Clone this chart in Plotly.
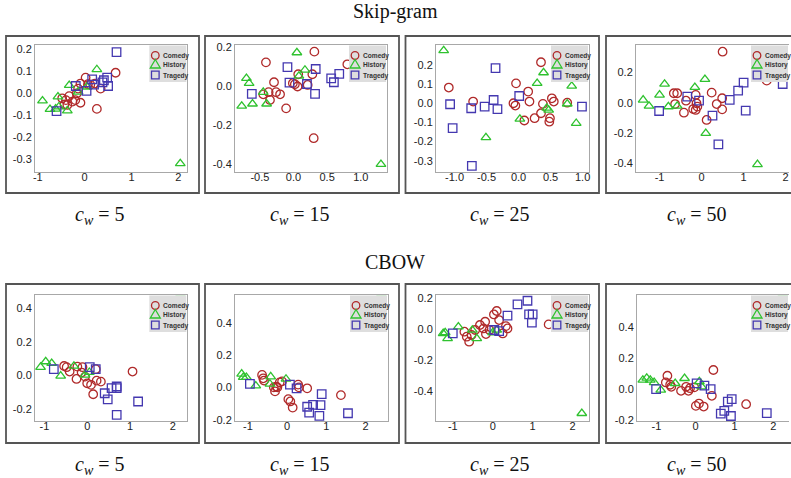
import plotly.graph_objects as go

# ---------------- data ----------------
GENRES = ["Comedy", "History", "Tragedy"]
ROW_TITLES = ["Skip-gram", "CBOW"]
WINDOWS = [5, 15, 25, 50]

# Skip-gram, c_w = 5
SG5_COMEDY_X = [0.02, 0.66, -0.09, 0.07, 0.22, 0.34, 0.26, -0.09, -0.26, -0.37, -0.4, -0.33, -0.48, -0.17, -0.14, -0.43, 0.12, -0.2]
SG5_COMEDY_Y = [0.072, 0.094, 0.045, 0.042, 0.045, 0.022, -0.07, -0.042, -0.037, -0.052, -0.03, -0.012, -0.022, 0.0, 0.022, -0.05, 0.04, -0.03]
SG5_HISTORY_X = [-0.9, -0.74, -0.57, -0.55, -0.37, -0.33, -0.14, 0.26, 2.04, -0.62, 0.05]
SG5_HISTORY_Y = [-0.033, -0.072, -0.015, -0.06, -0.078, 0.037, 0.007, 0.109, -0.318, -0.07, 0.03]
SG5_TRAGEDY_X = [0.68, -0.6, -0.19, 0.04, 0.16, 0.41, 0.48, 0.5, 0.38, 0.2]
SG5_TRAGEDY_Y = [0.188, -0.08, 0.034, 0.012, 0.064, 0.06, 0.072, 0.034, 0.05, 0.04]

# Skip-gram, c_w = 15
SG15_COMEDY_X = [-0.41, 0.31, 0.8, -0.29, -0.37, -0.35, -0.26, -0.2, -0.11, -0.01, 0.02, 0.07, 0.06, 0.21, 0.28, 0.3, -0.45]
SG15_COMEDY_Y = [0.121, 0.176, 0.111, 0.019, -0.032, -0.072, -0.032, -0.043, -0.115, 0.014, 0.009, 0.06, -0.003, 0.005, 0.06, -0.268, -0.043]
SG15_HISTORY_X = [0.05, -0.7, -0.66, -0.77, -0.61, -0.45, -0.4, 0.17, 0.08, 1.3]
SG15_HISTORY_Y = [0.171, 0.039, 0.014, -0.103, -0.092, -0.032, -0.092, 0.082, 0.051, -0.402]
SG15_TRAGEDY_X = [-0.62, -0.09, -0.06, 0.2, 0.33, 0.32, 0.56, 0.6, 0.68]
SG15_TRAGEDY_Y = [-0.041, 0.096, 0.017, 0.01, 0.087, -0.041, 0.039, 0.019, 0.062]

# Skip-gram, c_w = 25
SG25_COMEDY_X = [-1.09, -0.71, -0.04, 0.35, 0.15, 0.17, -0.08, -0.05, 0.09, 0.25, 0.35, 0.38, 0.52, 0.55, 0.48, 0.49, 0.76]
SG25_COMEDY_Y = [0.082, 0.009, 0.104, 0.214, 0.061, 0.009, 0.0, -0.012, -0.09, -0.078, -0.052, -0.003, 0.026, 0.009, -0.096, -0.078, 0.003]
SG25_HISTORY_X = [-1.17, -0.51, 0.02, 0.29, 0.39, 0.47, 0.76, 0.83, 0.9, 0.44]
SG25_HISTORY_Y = [0.275, -0.179, -0.082, 0.104, 0.16, -0.035, -0.003, 0.09, -0.104, -0.025]
SG25_TRAGEDY_X = [-1.07, -1.03, -0.74, -0.53, -0.39, -0.36, -0.33, -0.73, 0.01, 0.99]
SG25_TRAGEDY_Y = [-0.005, -0.13, -0.026, -0.017, 0.017, 0.183, -0.031, -0.327, 0.038, -0.017]

# Skip-gram, c_w = 50
SG50_COMEDY_X = [0.5, -0.66, -0.58, -0.63, -0.42, -0.37, -0.2, -0.14, -0.1, -0.12, -0.14, 0.24, 0.36, 0.49, 0.49, 0.12, 1.55]
SG50_COMEDY_Y = [0.336, 0.062, 0.062, -0.009, -0.066, 0.013, -0.042, -0.048, -0.026, -0.004, 0.051, 0.066, -0.009, 0.029, -0.044, -0.114, 0.145]
SG50_HISTORY_X = [-1.39, -1.25, -1.0, -0.88, -0.79, -0.58, -0.16, 0.08, 0.1, 1.33]
SG50_HISTORY_Y = [0.018, -0.022, 0.051, 0.123, -0.026, -0.022, 0.101, 0.154, -0.202, -0.407]
SG50_TRAGEDY_X = [-1.01, -0.34, -0.06, 0.26, 0.67, 0.87, 1.0, 1.05, 0.4, 1.93]
SG50_TRAGEDY_Y = [-0.055, 0.04, 0.013, -0.086, 0.018, 0.079, 0.132, -0.053, -0.275, 0.123]

# CBOW, c_w = 5
CB5_COMEDY_X = [-0.54, -0.48, -0.41, -0.23, -0.11, -0.13, -0.25, -0.05, 0.0, 0.09, 0.14, 0.22, 0.32, 0.2, 1.06]
CB5_COMEDY_Y = [0.057, 0.05, 0.024, 0.053, 0.05, 0.018, -0.02, -0.006, -0.046, -0.055, -0.111, -0.03, -0.036, 0.038, 0.024]
CB5_HISTORY_X = [-1.09, -0.97, -0.83, -0.62, -0.31, -0.05, 0.05, 2.18]
CB5_HISTORY_Y = [0.05, 0.083, 0.073, -0.002, 0.057, 0.004, 0.02, 0.494]
CB5_TRAGEDY_X = [-0.78, 0.06, 0.2, 0.41, 0.48, 0.57, 0.69, 0.69, 1.19, 0.69]
CB5_TRAGEDY_Y = [0.038, 0.05, 0.038, -0.105, -0.141, -0.075, -0.065, -0.075, -0.154, -0.234]

# CBOW, c_w = 15
CB15_COMEDY_X = [-0.64, -0.61, -0.59, -0.34, -0.31, -0.25, -0.19, -0.13, 0.03, 0.08, 0.14, 0.28, 0.3, 0.51, 1.37, -0.28]
CB15_COMEDY_Y = [0.077, 0.056, 0.042, 0.0, -0.025, 0.0, 0.031, 0.037, -0.073, -0.087, -0.125, 0.017, 0.0, -0.006, -0.048, 0.005]
CB15_HISTORY_X = [-1.16, -1.12, -1.04, -0.8, -0.42, -0.44, -0.03, 2.4]
CB15_HISTORY_Y = [0.083, 0.062, 0.062, 0.01, 0.066, 0.021, 0.052, 0.587]
CB15_TRAGEDY_X = [-0.95, 0.07, 0.24, 0.51, 0.56, 0.66, 0.88, 0.85, 0.82, 1.55]
CB15_TRAGEDY_Y = [0.021, 0.017, -0.006, -0.12, -0.156, -0.108, -0.042, -0.11, -0.176, -0.16]

# CBOW, c_w = 25
CB25_COMEDY_X = [-0.71, -0.59, -0.65, -0.53, -0.44, -0.32, -0.19, -0.23, -0.17, -0.08, 0.03, 0.1, 0.16, 0.25, 0.33, 0.37, 1.4]
CB25_COMEDY_Y = [-0.015, -0.079, -0.047, -0.036, -0.004, 0.028, 0.049, 0.006, -0.03, -0.004, 0.096, 0.118, 0.06, -0.026, 0.021, 0.006, 0.032]
CB25_HISTORY_X = [-1.24, -1.19, -1.13, -0.86, -0.51, -0.4, 0.0, 0.1, 2.23]
CB25_HISTORY_Y = [-0.026, -0.021, -0.058, 0.017, -0.004, -0.058, -0.021, -0.004, -0.54]
CB25_TRAGEDY_X = [-1.0, 0.04, 0.16, 0.37, 0.62, 0.87, 0.91, 1.0, 0.98]
CB25_TRAGEDY_Y = [-0.026, -0.004, -0.011, 0.088, 0.161, 0.184, 0.096, 0.096, 0.043]

# CBOW, c_w = 50
CB50_COMEDY_X = [-0.72, -0.76, -0.65, -0.62, -0.37, -0.24, -0.18, -0.14, -0.03, 0.01, 0.09, 0.21, 0.42, 0.46, 1.3]
CB50_COMEDY_Y = [0.086, 0.043, 0.028, 0.015, -0.011, 0.015, -0.011, 0.006, 0.011, -0.108, -0.093, -0.112, -0.043, 0.123, -0.097]
CB50_HISTORY_X = [-1.35, -1.25, -1.16, -1.06, -0.89, -0.52, -0.28, 0.1, 0.16, 2.24]
CB50_HISTORY_Y = [0.058, 0.071, 0.058, 0.043, -0.006, 0.037, 0.069, 0.048, 0.015, 0.621]
CB50_TRAGEDY_X = [-1.01, 0.03, 0.23, 0.39, 0.65, 0.74, 0.83, 0.93, 0.91, 1.83]
CB50_TRAGEDY_Y = [0.0, 0.037, 0.022, 0.0, -0.158, -0.14, -0.08, -0.065, -0.173, -0.155]

# tick labels per panel
XTICKS_INT = ["-1", "0", "1", "2"]
XTICKS_SG15 = ["-0.5", "0.0", "0.5", "1.0"]
XTICKS_SG25 = ["-1.0", "-0.5", "0.0", "0.5", "1.0"]
YTICKS_SG5 = ["-0.3", "-0.2", "-0.1", "0.0", "0.1", "0.2"]
YTICKS_SG15 = ["-0.4", "-0.2", "0.0", "0.2"]
YTICKS_SG25 = ["-0.3", "-0.2", "-0.1", "0.0", "0.1", "0.2"]
YTICKS_SG50 = ["-0.4", "-0.2", "0.0", "0.2"]
YTICKS_CB = ["-0.2", "0.0", "0.2", "0.4"]
YTICKS_CB25 = ["-0.4", "-0.2", "0.0", "0.2"]

PANEL_DATA = [
    ((SG5_COMEDY_X, SG5_COMEDY_Y), (SG5_HISTORY_X, SG5_HISTORY_Y), (SG5_TRAGEDY_X, SG5_TRAGEDY_Y)),
    ((SG15_COMEDY_X, SG15_COMEDY_Y), (SG15_HISTORY_X, SG15_HISTORY_Y), (SG15_TRAGEDY_X, SG15_TRAGEDY_Y)),
    ((SG25_COMEDY_X, SG25_COMEDY_Y), (SG25_HISTORY_X, SG25_HISTORY_Y), (SG25_TRAGEDY_X, SG25_TRAGEDY_Y)),
    ((SG50_COMEDY_X, SG50_COMEDY_Y), (SG50_HISTORY_X, SG50_HISTORY_Y), (SG50_TRAGEDY_X, SG50_TRAGEDY_Y)),
    ((CB5_COMEDY_X, CB5_COMEDY_Y), (CB5_HISTORY_X, CB5_HISTORY_Y), (CB5_TRAGEDY_X, CB5_TRAGEDY_Y)),
    ((CB15_COMEDY_X, CB15_COMEDY_Y), (CB15_HISTORY_X, CB15_HISTORY_Y), (CB15_TRAGEDY_X, CB15_TRAGEDY_Y)),
    ((CB25_COMEDY_X, CB25_COMEDY_Y), (CB25_HISTORY_X, CB25_HISTORY_Y), (CB25_TRAGEDY_X, CB25_TRAGEDY_Y)),
    ((CB50_COMEDY_X, CB50_COMEDY_Y), (CB50_HISTORY_X, CB50_HISTORY_Y), (CB50_TRAGEDY_X, CB50_TRAGEDY_Y)),
]
PANEL_XTICKS = [XTICKS_INT, XTICKS_SG15, XTICKS_SG25, XTICKS_INT, XTICKS_INT, XTICKS_INT, XTICKS_INT, XTICKS_INT]
PANEL_YTICKS = [YTICKS_SG5, YTICKS_SG15, YTICKS_SG25, YTICKS_SG50, YTICKS_CB, YTICKS_CB, YTICKS_CB25, YTICKS_CB]

# ---------------- layout / style ----------------
W, H = 791, 478
XRANGES = [(-1.06, 2.19), (-0.87, 1.39), (-1.29, 1.10), (-1.56, 2.08),
           (-1.22, 2.34), (-1.33, 2.57), (-1.42, 2.41), (-1.50, 2.40)]
YRANGES = [(-0.355, 0.22), (-0.44, 0.21), (-0.357, 0.304), (-0.455, 0.38),
           (-0.27, 0.479), (-0.208, 0.571), (-0.589, 0.221), (-0.205, 0.605)]
INNER_X = [(35, 187.3), (235, 387), (436, 589), (636, 789),
           (35, 187.3), (235, 388), (436, 589), (637, 789)]
INNER_Y = [(45, 171.7), (295, 421)]
FRAME_X = [(6, 199), (205, 399), (405.5, 599), (606, 830)]
FRAME_Y = [(36, 193), (284, 443)]

COLORS = ["#b02a2a", "#2fc22f", "#4438b0"]
SYMBOLS = ["circle-open", "triangle-up-open", "square-open"]
TICK_FONT = dict(family="Liberation Sans, Arial, sans-serif", size=11, color="#222222")
SERIF = "Liberation Serif, Times New Roman, serif"


def px(p):
    return p / W


def py(p):
    return 1 - p / H


fig = go.Figure()
shapes = []
annotations = []

for i, data in enumerate(PANEL_DATA):
    n = i + 1
    row, col = divmod(i, 4)
    xa = "x" if n == 1 else f"x{n}"
    ya = "y" if n == 1 else f"y{n}"
    for g, (xs, ys) in enumerate(data):
        fig.add_trace(go.Scatter(
            x=xs, y=ys, mode="markers", name=GENRES[g], showlegend=False,
            xaxis=xa, yaxis=ya,
            marker=dict(symbol=SYMBOLS[g], size=8.5, color=COLORS[g],
                        line=dict(width=1.3, color=COLORS[g])),
        ))
    x0, x1 = INNER_X[i]
    y0, y1 = INNER_Y[row]
    xt = PANEL_XTICKS[i]
    yt = PANEL_YTICKS[i]
    axis_common = dict(showgrid=False, zeroline=False, showline=True,
                       linecolor="#a8a8a8", linewidth=1, ticks="",
                       tickfont=TICK_FONT, fixedrange=True)
    fig.layout[f"xaxis{'' if n == 1 else n}"] = dict(
        domain=[px(x0), px(x1)], range=list(XRANGES[i]), anchor=ya,
        tickmode="array", tickvals=[float(t) for t in xt], ticktext=xt,
        mirror=True, ticklabelstandoff=-5, **axis_common)
    fig.layout[f"yaxis{'' if n == 1 else n}"] = dict(
        domain=[py(y1), py(y0)], range=list(YRANGES[i]), anchor=xa,
        tickmode="array", tickvals=[float(t) for t in yt], ticktext=yt,
        mirror=(col != 3), **axis_common)

    # outer frame
    fx0, fx1 = FRAME_X[col]
    fy0, fy1 = FRAME_Y[row]
    shapes.append(dict(type="rect", xref="paper", yref="paper",
                       x0=px(fx0), x1=px(fx1), y0=py(fy1), y1=py(fy0),
                       line=dict(color="#555555", width=1.8), layer="below"))

    # legend (key box in top-right corner of each panel)
    R, T = x1, y0
    shapes.append(dict(type="rect", xref="paper", yref="paper",
                       x0=px(R - 38), x1=px(R - 1), y0=py(T + 37), y1=py(T + 0.5),
                       fillcolor="#dedede", line=dict(width=0), layer="above"))
    cx = R - 32
    rows_y = [T + 10.5, T + 19.5, T + 30]
    # circle
    shapes.append(dict(type="circle", xref="paper", yref="paper",
                       x0=px(cx - 3.8), x1=px(cx + 3.8),
                       y0=py(rows_y[0] + 3.8), y1=py(rows_y[0] - 3.8),
                       line=dict(color=COLORS[0], width=1.3), layer="above"))
    # triangle
    ty = rows_y[1]
    shapes.append(dict(type="path", xref="paper", yref="paper",
                       path=f"M {px(cx - 5)},{py(ty + 3.5)} L {px(cx + 5)},{py(ty + 3.5)} L {px(cx)},{py(ty - 5)} Z",
                       line=dict(color=COLORS[1], width=1.3), layer="above"))
    # square
    sy = rows_y[2]
    shapes.append(dict(type="rect", xref="paper", yref="paper",
                       x0=px(cx - 3.8), x1=px(cx + 3.8), y0=py(sy + 3.8), y1=py(sy - 3.8),
                       line=dict(color=COLORS[2], width=1.3), layer="above"))
    for g, name in enumerate(GENRES):
        annotations.append(dict(
            x=px(R - 26.5), y=py(rows_y[g] + 0.8), xref="paper", yref="paper",
            xanchor="left", yanchor="middle", showarrow=False,
            text=f"<b>{name}</b>",
            font=dict(family="Liberation Sans, Arial, sans-serif", size=6.6, color="#333333")))

    # c_w caption under each panel
    cap_y = [215, 465][row]
    cap_x = [100, 300, 500, 697][col]
    annotations.append(dict(
        x=px(cap_x), y=py(cap_y), xref="paper", yref="paper",
        xanchor="center", yanchor="middle", showarrow=False,
        text=f"<i>c</i><sub><i>w</i></sub> = {WINDOWS[col]}",
        font=dict(family=SERIF, size=20, color="#111111")))

# row titles
for r, title in enumerate(ROW_TITLES):
    annotations.append(dict(
        x=px(395), y=py([12, 262][r]), xref="paper", yref="paper",
        xanchor="center", yanchor="middle", showarrow=False,
        text=title, font=dict(family=SERIF, size=20, color="#111111")))

fig.update_layout(
    width=W, height=H,
    margin=dict(l=0, r=0, t=0, b=0, pad=0, autoexpand=False),
    paper_bgcolor="white", plot_bgcolor="white",
    showlegend=False,
    shapes=shapes, annotations=annotations,
)

fig.write_html("out.html", config={"displayModeBar": False},
               post_script="document.body.style.margin='0';document.body.style.overflow='hidden';")
